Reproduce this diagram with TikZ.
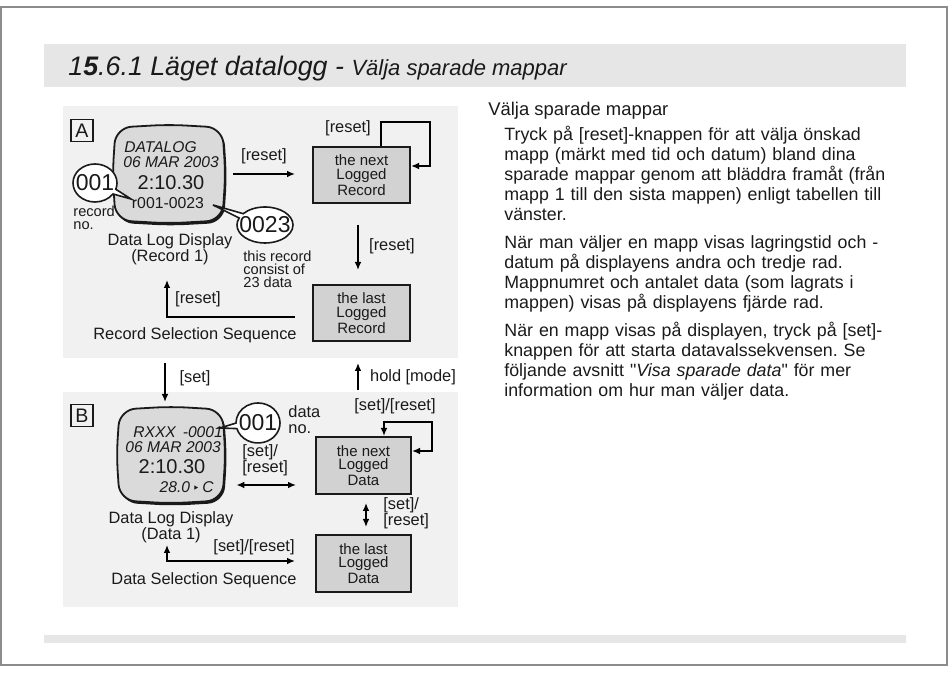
\documentclass[tikz,border=0pt]{standalone}
\usepackage{fontspec}
\setmainfont{Liberation Sans}
\newfontfamily\symfont{DejaVu Sans}
\newfontfamily\plainsans{Liberation Sans}
\usepackage{xcolor}
\usetikzlibrary{arrows.meta,positioning,calc,shapes.geometric,shapes.callouts}
\definecolor{ink}{HTML}{1A1A1A}
\definecolor{framegray}{HTML}{8C8C8C}
\definecolor{bandgray}{HTML}{E6E6E6}
\definecolor{panelgray}{HTML}{F1F1F1}
\definecolor{boxgray}{HTML}{D2D2D2}
\definecolor{lcdgray}{HTML}{DADADA}
\frenchspacing

% pillow shaped frame round an (empty) display node
\newcommand\lcdframe[1]{\draw[lcd] ([xshift=-1.5pt]#1.west) -- (#1.north west) -- ([yshift=1.5pt]#1.north) -- (#1.north east) -- ([xshift=1.5pt]#1.east) -- (#1.south east) -- ([yshift=-1.5pt]#1.south) -- (#1.south west) -- cycle;}

\begin{document}
\begin{tikzpicture}[x=0.5pt,y=-0.5pt, every node/.style={inner sep=0pt,text=ink},
  lbl/.style={font=\fontsize{8.2}{8}\selectfont,align=center},
  small/.style={font=\fontsize{7.3}{6.5}\selectfont,align=left},
  lcdtxt/.style={font=\fontsize{7.8}{7.8}\selectfont\itshape},
  box/.style={draw=ink,fill=boxgray,line width=1pt,minimum width=48.5pt,minimum height=28pt,align=center,font=\fontsize{7.5}{6.7}\selectfont},
  lcd/.style={draw=ink,fill=lcdgray,line width=0.9pt,rounded corners=8pt,preaction={fill=ink,transform canvas={xshift=0.8pt,yshift=-1.2pt}}},
  bubble/.style={ellipse callout,draw=ink,fill=white,line width=0.8pt,callout pointer arc=16,font=\fontsize{11.5}{12}\selectfont},
  tag/.style={draw=ink,line width=0.6pt,minimum size=11pt,font=\fontsize{9.8}{10}\selectfont},
  para/.style={text width=205pt,align=left,font=\fontsize{8.9}{10}\selectfont,anchor=base west},
  arr/.style={line width=1pt,-{Latex[length=4pt,width=3.4pt]}},
  dbl/.style={line width=1pt,{Latex[length=4pt,width=3.4pt]}-{Latex[length=4pt,width=3.4pt]}}]
\useasboundingbox (0,0) rectangle (950,673);
\draw[framegray,line width=0.8pt] (1,7) rectangle (947,665);
\fill[bandgray] (44,44) rectangle (906,87);
\fill[bandgray] (44,635) rectangle (906,643);
\node[anchor=base west,font=\fontsize{13.4}{14}\selectfont\itshape] (title) at (68,76) {1\textbf{5}.6.1 Läget datalogg - {\fontsize{11}{11}\selectfont Välja sparade mappar}};

% panel A: record selection
\fill[panelgray] (63,106) rectangle (458,358);
\node[tag] (tagA) at (82,130.5) {A};
\node[minimum width=53pt,minimum height=46pt] (dA) at (169,174) {};
\lcdframe{dA}
\node[lcdtxt,anchor=west] (dA1) at (124,147) {DATALOG};
\node[lcdtxt,anchor=west] (dA2) at (123,162) {06 MAR 2003};
\node[font=\fontsize{10}{10}\selectfont] (dA3) at (171,183) {2:10.30};
\node[font=\fontsize{7.9}{8}\selectfont] (dA4) at (168,203) {r001-0023};
\node[bubble,minimum width=22pt,minimum height=19pt,callout absolute pointer={(131,199)}] (recno) at (95,183) {\makebox[0pt]{001}};
\node[bubble,minimum width=28pt,minimum height=18pt,callout absolute pointer={(213,205)}] (reccnt) at (265,225) {\makebox[0pt]{0023}};
\node[small,anchor=north west] (recnoT) at (73,206) {record\\no.};
\node[small,anchor=north west] (reccntT) at (243,251) {this record\\consist of\\23 data};
\node[lbl] (capA) at (170,249.5) {Data Log Display\\(Record 1)};
\node[box] (nR) at (361.5,175) {the next\\Logged\\Record};
\node[box] (lR) at (361.5,313) {the last\\Logged\\Record};
\draw[arr,shorten <=5.5pt,shorten >=8.5pt] (dA.east) -- (dA.east -| nR.west);
\draw[arr] ([xshift=9.75pt]nR.north) |- (430,122) |- ([yshift=4.5pt]nR.east);
\draw[arr,shorten <=10.5pt,shorten >=7pt] ([xshift=-1.75pt]nR.south) -- ([xshift=-1.75pt]lR.north);
\coordinate (retA) at (167,280);
\draw[arr] ([xshift=-8.5pt,yshift=-2pt]lR.west) -| (retA);
\node[lbl] (l1) at (264,156) {[reset]};
\node[lbl] (l2) at (348,128) {[reset]};
\node[lbl] (l3) at (392,246) {[reset]};
\node[lbl] (l4) at (198,299) {[reset]};
\node[lbl] (seqA) at (195,335) {Record Selection Sequence};

% panel B: data selection
\fill[panelgray] (63,392) rectangle (458,607);
\node[tag] (tagB) at (82,415.5) {B};
\node[minimum width=51pt,minimum height=45pt] (dB) at (171,455) {};
\lcdframe{dB}
\node[lcdtxt,anchor=west] (dB1) at (133,432) {RXXX\ \,-0001};
\node[lcdtxt,anchor=west] (dB2) at (125,447) {06 MAR 2003};
\node[font=\fontsize{10}{10}\selectfont] (dB3) at (172,467) {2:10.30};
\node[lcdtxt,anchor=east] (dB4) at (214,487) {28.0\,{\symfont\upshape\fontsize{6}{6}\selectfont ‣}\,C};
\node[bubble,minimum width=22pt,minimum height=20pt,callout absolute pointer={(220,428)}] (datno) at (258,423) {\makebox[0pt]{001}};
\node[lbl,align=left,anchor=north west] (datnoT) at (288,405) {data\\no.};
\node[lbl] (capB) at (171,527.5) {Data Log Display\\(Data 1)};
\node[box,minimum width=47.5pt,minimum height=28.5pt] (nD) at (363.5,465.5) {the next\\Logged\\Data};
\node[box,minimum width=47.5pt,minimum height=28.5pt] (lD) at (363.5,563.5) {the last\\Logged\\Data};
\draw[dbl,shorten <=7pt,shorten >=9.5pt] ([yshift=-15pt]dB.east) -- ([yshift=-15pt]dB.east -| nD.west);
\draw[dbl] ([yshift=7.25pt]nD.east) -| (432,422) -| ([xshift=10.25pt]nD.north);
\draw[dbl,shorten <=4pt,shorten >=3.5pt] ([xshift=1.25pt]nD.south) -- ([xshift=1.25pt]lD.north);
\coordinate (retB) at (167,545);
\draw[dbl] (retB) |- ([xshift=-10pt,yshift=1.25pt]lD.west);
\node[lbl,align=left,anchor=west] (l7) at (242,460) {[set]/\\{[reset]}};
\node[lbl] (l8) at (395,406) {[set]/[reset]};
\node[lbl,align=left,anchor=west] (l9) at (383,513) {[set]/\\{[reset]}};
\node[lbl] (l10) at (254,547) {[set]/[reset]};
\node[lbl] (seqB) at (204,580) {Data Selection Sequence};

% between the panels
\coordinate (setA) at (165,363); \coordinate (setB) at (165,402);
\coordinate (modeB) at (358,390); \coordinate (modeA) at (358,363);
\draw[arr] (setA) -- (setB); \draw[arr] (modeB) -- (modeA);
\node[lbl] (l5) at (195,378) {[set]};
\node[lbl] (l6) at (413,377) {hold [mode]};

% text column
\node[anchor=base west,font=\fontsize{9.2}{10}\selectfont] (head) at (488,116) {Välja sparade mappar};
\node[para] (p1) at (504,141) {Tryck på [reset]-knappen för att välja önskad\\
mapp (märkt med tid och datum) bland dina\\
sparade mappar genom att bläddra framåt (från\\
mapp 1 till den sista mappen) enligt tabellen till\\
vänster.};
\node[para] (p2) at (504,249) {När man väljer en mapp visas lagringstid och -\\
datum på displayens andra och tredje rad.\\
Mappnumret och antalet data (som lagrats i\\
mappen) visas på displayens fjärde rad.};
\node[para] (p3) at (504,337) {När en mapp visas på displayen, tryck på [set]-\\
knappen för att starta datavalssekvensen. Se\\
följande avsnitt {\plainsans"}\textit{Visa sparade data}{\plainsans"} för mer\\
information om hur man väljer data.};
\end{tikzpicture}
\end{document}
